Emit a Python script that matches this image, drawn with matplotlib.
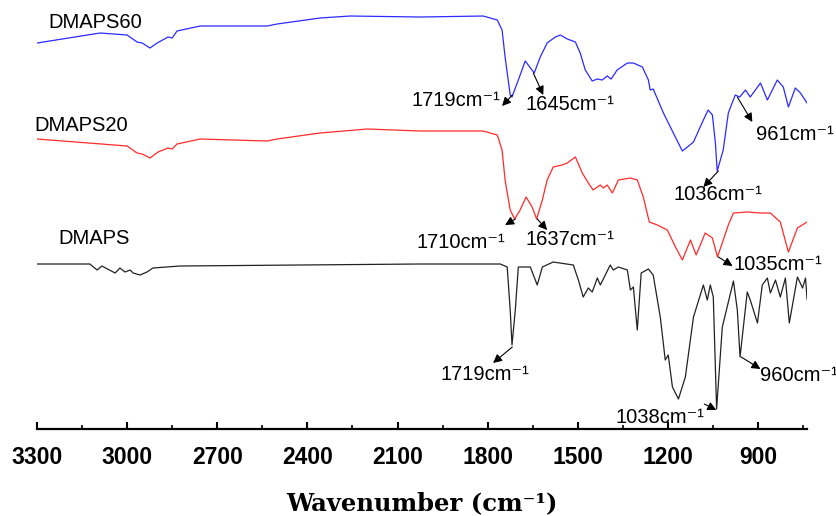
import numpy as np
import matplotlib
matplotlib.use('Agg')
import matplotlib.pyplot as plt

plt.rcParams['font.family'] = ['Liberation Sans', 'DejaVu Sans']
plt.rcParams['mathtext.fontset'] = 'custom'
plt.rcParams['mathtext.rm'] = 'Liberation Sans'
plt.rcParams['mathtext.it'] = 'Liberation Sans:italic'
plt.rcParams['mathtext.bf'] = 'Liberation Sans:bold'

# DMAPS60 (blue), a.u.
wn60 = [3300, 3090, 3000, 2967, 2950, 2924, 2900, 2864, 2850, 2834, 2757, 2534, 2501,
        2358, 2258, 2025, 1815, 1768, 1752, 1742, 1725, 1719, 1698, 1675, 1665, 1645,
        1625, 1602, 1575, 1558, 1535, 1508, 1492, 1475, 1452, 1435, 1419, 1402, 1389,
        1369, 1335, 1315, 1285, 1265, 1259, 1249, 1215, 1182, 1152, 1135, 1115, 1082,
        1066, 1052, 1042, 1036, 1016, 999, 976, 961, 942, 926, 892, 869, 836, 816,
        799, 776, 759, 737]
t60 = [386, 396, 394, 387, 386, 381, 386, 392, 391, 398, 403, 403, 405,
       411, 413, 412, 413, 409, 399, 372, 334, 332, 349, 368, 364, 356,
       372, 386, 392, 394, 390, 387, 376, 359, 348, 350, 349, 353, 350,
       359, 366, 366, 362, 349, 339, 340, 316, 296, 278, 282, 287, 309,
       319, 314, 286, 258, 279, 316, 334, 332, 339, 332, 346, 329, 349, 342,
       322, 341, 336, 326]

# DMAPS20 (red)
wn20 = [3300, 3000, 2967, 2950, 2924, 2897, 2864, 2850, 2834, 2757, 2534, 2501, 2358,
        2201, 2025, 1815, 1768, 1752, 1742, 1725, 1710, 1692, 1672, 1652, 1637, 1618,
        1602, 1582, 1552, 1535, 1508, 1485, 1465, 1449, 1425, 1415, 1402, 1385, 1365,
        1325, 1302, 1282, 1262, 1235, 1202, 1175, 1152, 1125, 1106, 1076, 1052, 1035,
        999, 982, 936, 892, 859, 826, 799, 769, 737]
t20 = [290, 283, 276, 275, 271, 277, 281, 280, 285, 290, 288, 290, 296,
       300, 298, 298, 294, 279, 249, 219, 210, 219, 232, 222, 210, 229,
       249, 262, 264, 266, 272, 256, 246, 239, 244, 241, 244, 236, 249,
       251, 249, 232, 207, 204, 199, 182, 169, 189, 174, 196, 191, 172,
       204, 216, 217, 216, 216, 207, 177, 201, 207]

# DMAPS (black)
wn0 = [3300, 3124, 3100, 3084, 3040, 3024, 3007, 2990, 2980, 2957, 2934, 2914, 2824,
       2025, 1758, 1735, 1725, 1719, 1708, 1698, 1658, 1635, 1618, 1582, 1515, 1498,
       1482, 1465, 1452, 1435, 1425, 1392, 1382, 1365, 1335, 1325, 1315, 1302, 1289,
       1265, 1249, 1225, 1209, 1199, 1185, 1165, 1142, 1115, 1082, 1069, 1059, 1049,
       1038, 1019, 982, 969, 960, 936, 926, 902, 886, 869, 859, 842, 826, 809,
       796, 769, 752, 742, 737]
t0 = [165, 165, 159, 163, 156, 161, 157, 159, 156, 154, 157, 161, 163,
      165, 165, 162, 119, 84, 119, 162, 162, 144, 162, 167, 164, 149,
      132, 141, 137, 151, 144, 164, 159, 162, 159, 139, 142, 99, 156,
      160, 154, 111, 69, 74, 42, 30, 52, 112, 144, 129, 144, 132,
      20, 102, 148, 119, 72, 137, 129, 106, 144, 151, 136, 149, 132, 151,
      106, 152, 141, 151, 130]

names = ['DMAPS60', 'DMAPS20', 'DMAPS']
name_pos = [(3263, 407), (3310, 304), (3230, 191)]

# peak labels: text, arrow tail, arrow head, text centre
peaks = [
    ('1719', (1718, 334), (1752, 323), (1905, 329)),
    ('1645', (1648, 356), (1615, 334), (1525, 325)),
    ('1036', (1032, 258), (1082, 242), (1035, 235)),
    ('961', (969, 332), (919, 307), (776, 295)),
    ('1710', (1708, 210), (1742, 204), (1888, 187)),
    ('1637', (1635, 210), (1602, 199), (1525, 190)),
    ('1035', (1032, 172), (985, 163), (835, 165)),
    ('1719', (1718, 82), (1782, 66), (1808, 55)),
    ('1038', (1079, 25), (1039, 19), (1225, 12)),
    ('960', (956, 72), (892, 60), (763, 54)),
]

fig = plt.figure(figsize=(8.37, 5.16), dpi=100)
ax = fig.add_axes([0.0442, 0.1686, 0.920, 0.812])

ax.plot(wn60, t60, color='#2b2bff', lw=0.9, solid_joinstyle='round')
ax.plot(wn20, t20, color='#ff2b2b', lw=0.9, solid_joinstyle='round')
ax.plot(wn0, t0, color='#222222', lw=0.9, solid_joinstyle='round')

for n, (x, y) in zip(names, name_pos):
    ax.text(x, y, n, fontsize=14.5, ha='left', va='center', clip_on=False)

for lab, tail, head, tpos in peaks:
    ax.annotate('', xy=head, xytext=tail,
                arrowprops=dict(arrowstyle='-|>', color='black', lw=0.8,
                                mutation_scale=13, shrinkA=0, shrinkB=0))
    ax.text(tpos[0], tpos[1], lab + 'cm⁻¹', fontsize=14.5,
            ha='center', va='center')

ax.set_xlim(3300, 737)
ax.set_ylim(0, 419)
ax.set_xticks(np.arange(3300, 899, -300))
ax.set_xticks(np.arange(3150, 736, -300), minor=True)
for s in ['left', 'right', 'top']:
    ax.spines[s].set_visible(False)
ax.spines['bottom'].set_linewidth(1.6)
ax.set_yticks([])
ax.tick_params(axis='x', which='major', direction='in', length=5, width=1.5,
               pad=12, labelsize=16.5)
ax.tick_params(axis='x', which='minor', direction='in', length=3, width=1.2)
for t in ax.get_xticklabels():
    t.set_fontweight('bold')

ax.set_xlabel('Wavenumber (cm⁻¹)', family='DejaVu Serif', fontweight='bold',
              fontsize=17.5, labelpad=16)

fig.savefig('out.png', dpi=100)
